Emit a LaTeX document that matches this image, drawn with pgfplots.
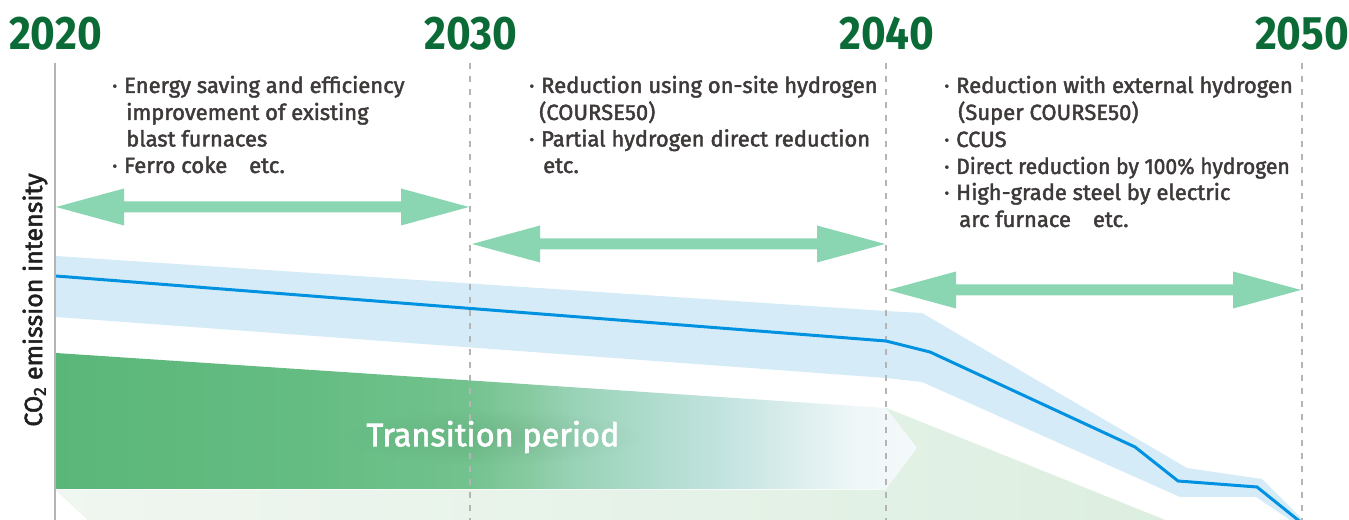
\documentclass[border=0pt]{standalone}
\usepackage{pgfplots}
\pgfplotsset{compat=1.18}
\usetikzlibrary{fadings}
\tikzfading[name=halo, inner color=transparent!0, outer color=transparent!100]
\usepackage{fontspec}
\setmainfont{Fira Sans}
\newfontfamily\medfont{Fira Sans}[FakeBold=2]
\definecolor{yeargreen}{RGB}{10,107,54}
\definecolor{txt}{RGB}{62,58,57}
\definecolor{arrowgreen}{RGB}{138,214,179}
\definecolor{bandblue}{RGB}{213,236,248}
\definecolor{lineblue}{RGB}{0,146,224}
\definecolor{gridgray}{RGB}{180,180,180}
\definecolor{lgA}{RGB}{240,246,240}
\definecolor{lgB}{RGB}{221,239,225}
\definecolor{glow}{RGB}{40,100,60}
\definecolor{g0}{RGB}{91,183,121}
\definecolor{g1}{RGB}{100,188,130}
\definecolor{g2}{RGB}{114,194,142}
\definecolor{g3}{RGB}{135,202,160}
\definecolor{g4}{RGB}{152,210,182}
\definecolor{g5}{RGB}{181,222,210}
\definecolor{g6}{RGB}{192,226,222}
\definecolor{g7}{RGB}{220,238,238}
\definecolor{g8}{RGB}{240,247,248}
\definecolor{g9}{RGB}{244,249,250}
\pgfdeclarehorizontalshading{transition}{100bp}{color(0bp)=(g0); color(25bp)=(g0); color(39bp)=(g1); color(48.8bp)=(g2); color(52.4bp)=(g3); color(54.9bp)=(g4); color(60.8bp)=(g5); color(63.3bp)=(g6); color(68.1bp)=(g7); color(71.7bp)=(g8); color(75bp)=(g9); color(100bp)=(g9)}

\begin{document}
\begin{tikzpicture}
\begin{axis}[
  width=1349bp, height=520bp, scale only axis,
  xmin=0, xmax=1349, ymin=0, ymax=520, y dir=reverse,
  hide axis, clip=true,
]
% light green background shape
\addplot[draw=none, fill=lgB, left color=lgA, right color=lgB] coordinates {
 (56,490) (886,490) (886,408) (1165,520) (88,520)} -- cycle;
% transition arrow
\addplot[draw=none, shading=transition] coordinates {
 (56,353) (886,408) (917,448) (886,489) (56,489)} -- cycle;
% blue band
\addplot[draw=none, fill=bandblue] coordinates {
 (56,256) (886,311) (922,313) (1187,468) (1262,479) (1305,522)
 (1293,522) (1256,497) (1180,497) (922,382) (886,378) (56,317)} -- cycle;
% soft halo behind the transition label
\fill[glow, opacity=0.14, path fading=halo] (axis cs:493,437) ellipse [x radius=150bp, y radius=28bp];
% grid lines
\addplot[gridgray, line width=1.2pt] coordinates {(55,63) (55,520)};
\addplot[gridgray, line width=1.4pt, dash pattern=on 6bp off 7bp] coordinates {(470,63) (470,520)};
\addplot[gridgray, line width=1.4pt, dash pattern=on 6bp off 7bp] coordinates {(886,63) (886,520)};
\addplot[gridgray, line width=1.4pt, dash pattern=on 6bp off 7bp] coordinates {(1302,63) (1302,520)};
% blue line
\addplot[lineblue, line width=3bp, line join=round] coordinates {
 (56,276) (886,341) (930,352) (1135,447) (1178,481) (1257,487) (1303,524)};
% green double arrows
\addplot[draw=none, fill=arrowgreen] coordinates {
 (56,207) (124,188.5) (124,201.5) (401,201.5) (401,188.5) (469,207)
 (401,225.5) (401,212.5) (124,212.5) (124,225.5)} -- cycle;
\addplot[draw=none, fill=arrowgreen] coordinates {
 (472,244) (540,225.5) (540,238.5) (817,238.5) (817,225.5) (885,244)
 (817,262.5) (817,249.5) (540,249.5) (540,262.5)} -- cycle;
\addplot[draw=none, fill=arrowgreen] coordinates {
 (888,290) (956,271.5) (956,284.5) (1233,284.5) (1233,271.5) (1301,290)
 (1233,308.5) (1233,295.5) (956,295.5) (956,308.5)} -- cycle;

% year labels
\foreach \x/\yr in {55.5/2020, 471/2030, 887/2040, 1302/2050}{
  \edef\tmp{\noexpand\node[anchor=base, text=yeargreen, inner sep=0pt] at (axis cs:\x,50) {\noexpand\scalebox{0.9}[1]{\noexpand\fontsize{47bp}{50bp}\noexpand\selectfont\noexpand\bfseries \yr}};}
  \tmp
}
% y label
\node[rotate=90, text=black!88, inner sep=0pt, font=\medfont\fontsize{25bp}{28bp}\selectfont] at (axis cs:35,300) {CO\textsubscript{2} emission intensity};

% text blocks
\begin{scope}[every node/.style={anchor=base west, inner sep=0pt, text=txt, font=\medfont\fontsize{22bp}{26bp}\selectfont}]
\node at (axis cs:112,93) {·};
\node at (axis cs:124,93) {Energy saving and efficiency};
\node at (axis cs:126,120) {improvement of existing};
\node at (axis cs:126,146.5) {blast furnaces};
\node at (axis cs:112,173) {·};
\node at (axis cs:124,173) {Ferro coke\hspace{1em}etc.};

\node at (axis cs:529,93) {·};
\node at (axis cs:541,93) {Reduction using on-site hydrogen};
\node at (axis cs:533,120) {\hspace{6bp}(COURSE50)};
\node at (axis cs:529,146.5) {·};
\node at (axis cs:541,146.5) {Partial hydrogen direct reduction};
\node at (axis cs:543,173) {etc.};

\node at (axis cs:944,93) {·};
\node at (axis cs:956,93) {Reduction with external hydrogen};
\node at (axis cs:958,120) {(Super COURSE50)};
\node at (axis cs:944,147) {·};
\node at (axis cs:956,147) {CCUS};
\node at (axis cs:944,174) {·};
\node at (axis cs:956,174) {\scalebox{0.96}[1]{Direct reduction by 100\% hydrogen}};
\node at (axis cs:944,200) {·};
\node at (axis cs:956,200) {High-grade steel by electric};
\node at (axis cs:959,227) {arc furnace\hspace{1em}etc.};
\end{scope}

\node[text=white, inner sep=0pt, font=\medfont\fontsize{32.5bp}{36bp}\selectfont] at (axis cs:493,437) {Transition period};
\end{axis}
\pgfresetboundingbox
\path (current axis.south west) rectangle (current axis.north east);
\end{tikzpicture}
\end{document}
